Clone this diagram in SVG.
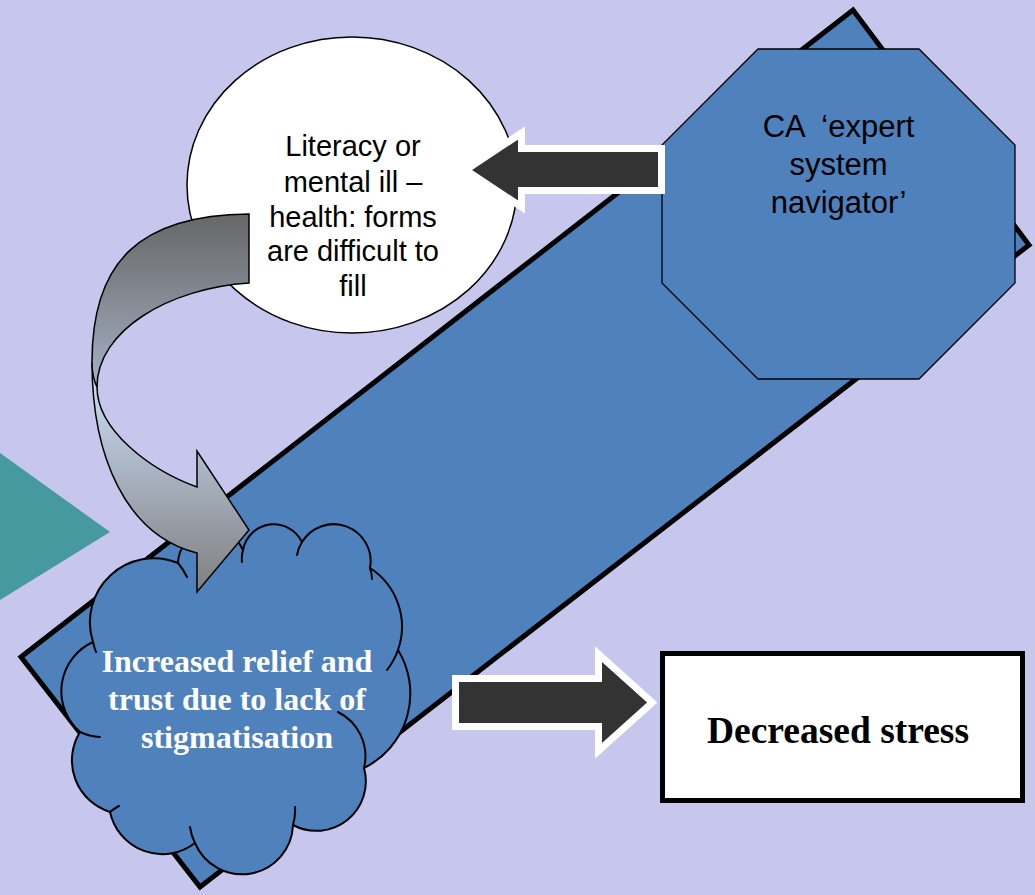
<svg xmlns="http://www.w3.org/2000/svg" width="1035" height="895" viewBox="0 0 1035 895">
  <defs>
    <style>
      .sans { font-family: "Liberation Sans", Arial, sans-serif; fill: #000; text-anchor: middle; }
      .serifb { font-family: "Liberation Serif", "Times New Roman", serif; font-weight: bold; text-anchor: middle; }
      .blue { fill: #4F81BD; }
      .blockarrow { fill: #333333; stroke: #FFFFFF; stroke-width: 7; stroke-linejoin: miter; stroke-miterlimit: 10; }
      .cloudline { fill: none; stroke: #000; stroke-width: 2; stroke-linecap: round; }
    </style>
    <linearGradient id="gBack" gradientUnits="userSpaceOnUse" x1="0" y1="214" x2="0" y2="387">
      <stop offset="0" stop-color="#666666"/>
      <stop offset="1" stop-color="#A4B1C3"/>
    </linearGradient>
    <linearGradient id="gFront" gradientUnits="userSpaceOnUse" x1="0" y1="385" x2="0" y2="592">
      <stop offset="0" stop-color="#C8DAF2"/>
      <stop offset="1" stop-color="#7F7F7F"/>
    </linearGradient>
  </defs>

  <rect x="0" y="0" width="1035" height="895" fill="#C7C6EC"/>

  <g id="background-band">
    <polygon class="blue" points="853,10 1029,245 200,887 21,657" stroke="#000" stroke-width="5" stroke-linejoin="miter"/>
  </g>

  <g id="teal-triangle">
    <polygon points="0,453 110,532 0,600" fill="#46999E"/>
  </g>

  <g id="node-literacy">
    <ellipse cx="352" cy="185" rx="165" ry="148" fill="#FFFFFF" stroke="#000" stroke-width="1.5"/>
    <text class="sans" font-size="29"><tspan x="353" y="156">Literacy or</tspan><tspan x="353" y="191.5">mental ill –</tspan><tspan x="353" y="226.5">health: forms</tspan><tspan x="353" y="261">are difficult to</tspan><tspan x="353" y="295.5">fill</tspan></text>
  </g>

  <g id="node-ca">
    <polygon class="blue" points="758,49 919,49 1015,145 1015,283 919,379 758,379 662,283 662,145" stroke="#000" stroke-width="1.3"/>
    <text class="sans" font-size="31" xml:space="preserve"><tspan x="838.5" y="137">CA  ‘expert</tspan><tspan x="838.5" y="175">system</tspan><tspan x="838.5" y="213">navigator’</tspan></text>
  </g>

  <g id="node-relief">
    <path class="blue" stroke="#000" stroke-width="2" stroke-linejoin="round" d="M 93,642 A 64 64 0 0 1 178,563 A 34 34 0 0 1 243,550 A 31.3 31.3 0 0 1 302,542 A 37 37 0 0 1 370,568 A 70 70 0 0 1 398,650 A 83 83 0 0 1 364,768 A 49.5 49.5 0 0 1 293,825 A 51 51 0 0 1 195,843 A 53.5 53.5 0 0 1 110,812 A 54 54 0 0 1 80,732 A 54 54 0 0 1 93,642 Z"/>
    <path class="cloudline" d="M 178,563 A 64 64 0 0 1 187,577 M 242,562 A 31.3 31.3 0 0 1 243,550 M 297,555 A 37 37 0 0 1 302,542 M 370,568 A 37 37 0 0 1 372,579 M 398,650 A 70 70 0 0 1 387,670 M 338,712 A 49.5 49.5 0 0 1 364,768 M 295,807 A 51 51 0 0 1 293,825 M 195,843 A 51 51 0 0 1 190,827 M 110,812 A 53.5 53.5 0 0 1 119,806 M 100,737 A 54 54 0 0 1 80,732 M 96,652 A 64 64 0 0 1 93,642"/>
    <text class="serifb" font-size="32" fill="#FFFFFF"><tspan x="237" y="672">Increased relief and</tspan><tspan x="237" y="710">trust due to lack of</tspan><tspan x="237" y="748">stigmatisation</tspan></text>
  </g>

  <g id="node-stress">
    <rect x="662.5" y="653.5" width="360" height="147" fill="#FFFFFF" stroke="#000" stroke-width="5"/>
    <text class="serifb" font-size="37.5" fill="#000" x="838" y="743">Decreased stress</text>
  </g>

  <g id="connectors">
    <path class="blockarrow" d="M 465.6,170 L 521.5,133 L 521.5,148.5 L 661.5,148.5 L 661.5,190.5 L 521.5,190.5 L 521.5,207 Z"/>
    <path class="blockarrow" d="M 455.5,678.5 L 598.5,678.5 L 598.5,654.2 L 652.2,702.5 L 598.5,750.8 L 598.5,726.5 L 455.5,726.5 Z"/>
    <g id="curved-arrow" stroke="#000" stroke-width="1.5" stroke-linejoin="miter">
      <path fill="url(#gFront)" d="M 92,362 C 92,455 125,535 197,553 L 197,592 L 249,530 L 197,451 L 197,487 C 150,470 97,430 97,387 Z"/>
      <path fill="url(#gBack)" d="M 249,214 C 139,215 92,262 92,362 C 92,372 94,381 97,387 C 97,330 170,288 249,283 Z"/>
    </g>
  </g>
</svg>
